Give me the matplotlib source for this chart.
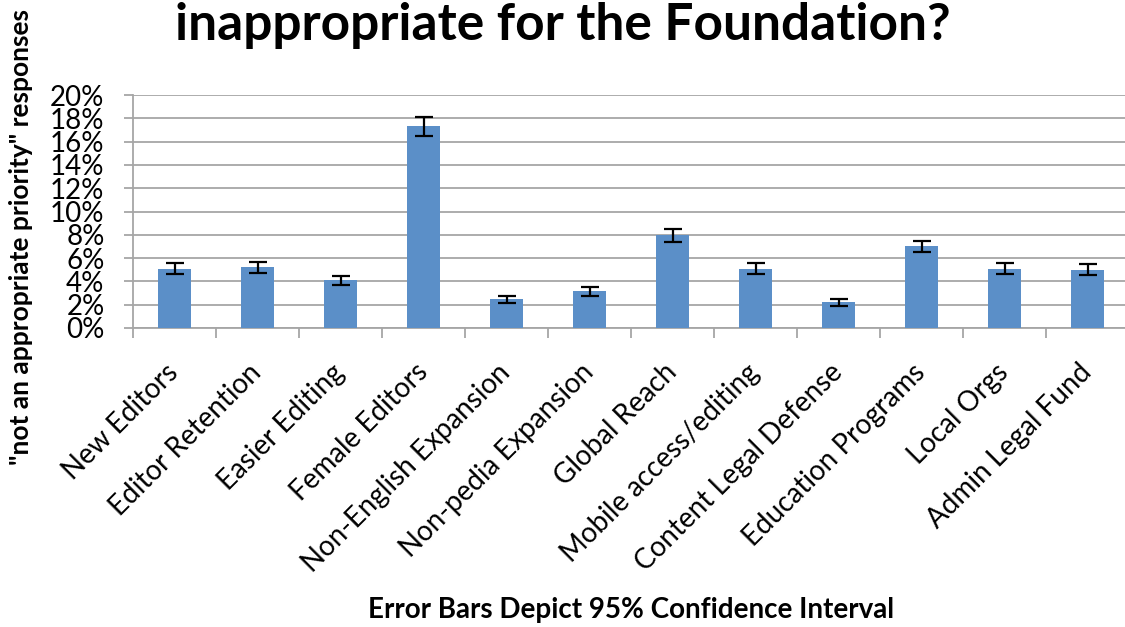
import numpy as np
import matplotlib
matplotlib.use("Agg")
import matplotlib.pyplot as plt
from matplotlib.ticker import FixedLocator, PercentFormatter

# values (percent)
categories = ["New Editors", "Editor Retention", "Easier Editing", "Female Editors",
              "Non-English Expansion", "Non-pedia Expansion", "Global Reach",
              "Mobile access/editing", "Content Legal Defense", "Education Programs",
              "Local Orgs", "Admin Legal Fund"]
pct_not_appropriate = [5.1, 5.2, 4.1, 17.3, 2.45, 3.15, 7.95, 5.1, 2.2, 7.0, 5.1, 5.0]
ci95 = [0.47, 0.48, 0.39, 0.79, 0.3, 0.39, 0.59, 0.45, 0.3, 0.5, 0.45, 0.47]
yticks = list(range(0, 21, 2))

plt.rcParams['font.family'] = ['Lato', 'DejaVu Sans']

bar_color = '#5B8FC8'
grid_color = '#A6A6A6'

fig = plt.figure(figsize=(11.25, 6.27), dpi=100)
ax = fig.add_axes([133 / 1125, 1 - 328 / 627, 996 / 1125, 233 / 627])

x = np.arange(len(categories))
ax.bar(x, pct_not_appropriate, width=0.39, color=bar_color, zorder=3)
ax.errorbar(x, pct_not_appropriate, yerr=ci95, fmt='none', ecolor='black',
            elinewidth=1.6, capsize=6.5, capthick=1.6, zorder=4)

ax.set_xlim(-0.5, len(categories) - 0.5)
ax.set_ylim(0, 20)
ax.set_yticks(yticks)
ax.yaxis.set_major_formatter(PercentFormatter(decimals=0))
ax.yaxis.grid(True, color=grid_color, linewidth=1.3, zorder=0)

ax.set_xticks(x)
ax.set_xticklabels(categories, rotation=45, ha='right', va='center',
                   rotation_mode='anchor', fontsize=20)
ax.xaxis.set_minor_locator(FixedLocator(np.arange(-0.5, len(categories), 1)))
ax.tick_params(axis='x', which='major', length=0, pad=29)
ax.tick_params(axis='x', which='minor', length=7, width=1.3, color=grid_color)
ax.tick_params(axis='y', length=6.5, width=1.3, color=grid_color, labelsize=20, pad=14)

for side in ['top', 'right']:
    ax.spines[side].set_visible(False)
for side in ['left', 'bottom']:
    ax.spines[side].set_color(grid_color)
    ax.spines[side].set_linewidth(1.3)

fig.text(563 / 1125, 1 - 40 / 627, "inappropriate for the Foundation?",
         ha='center', va='baseline', fontsize=37, fontweight='bold')
fig.text(21 / 1125, 1 - 465 / 627, '"not an appropriate priority" responses',
         rotation=90, ha='center', va='bottom', fontsize=19, fontweight='bold')
fig.text(631 / 1125, 1 - 610 / 627, "Error Bars Depict 95% Confidence Interval",
         ha='center', va='center', fontsize=20, fontweight='bold')

fig.savefig("out.png", dpi=100)
